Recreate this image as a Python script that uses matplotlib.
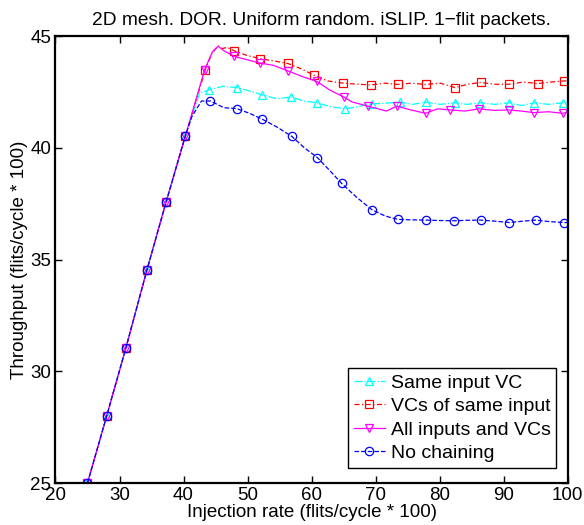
import matplotlib
matplotlib.use('Agg')
import matplotlib.pyplot as plt

plt.rcParams['font.family'] = ['Liberation Sans', 'DejaVu Sans']

title = '2D mesh. DOR. Uniform random. iSLIP. 1\u2212flit packets.'
xlabel = 'Injection rate (flits/cycle * 100)'
ylabel = 'Throughput (flits/cycle * 100)'
xticks = [20, 30, 40, 50, 60, 70, 80, 90, 100]
yticks = [25, 30, 35, 40, 45]

# shared linear ramp before saturation
ramp_x = [25.0, 28.0, 31.0, 34.3, 37.3, 40.3]
ramp_y = [25.0, 28.0, 31.05, 34.55, 37.6, 40.55]

# Same input VC
same_vc_x = ramp_x + [42.5, 44.0, 46.2, 48.4, 50.3, 52.2, 54.6, 56.8, 58.8, 60.8,
                      63.0, 65.2, 67.3, 69.4, 71.6, 73.8, 75.8, 77.8, 80.1, 82.4,
                      84.3, 86.3, 88.6, 90.9, 92.8, 94.8, 97.0, 99.2, 100.0]
same_vc_y = ramp_y + [42.45, 42.6, 42.76, 42.7, 42.55, 42.38, 42.2, 42.28, 42.1, 42.02,
                      41.85, 41.75, 41.85, 41.98, 42.0, 42.05, 41.95, 42.05, 41.95, 42.02,
                      41.95, 42.02, 41.95, 42.02, 41.9, 42.02, 41.95, 42.02, 42.0]
same_vc_mk = ramp_x + [44.0, 48.4, 52.2, 56.8, 60.8, 65.2, 69.4, 73.8, 77.8, 82.4,
                       86.3, 90.9, 94.8, 99.2]

# VCs of same input
vcs_in_x = ramp_x + [43.4, 44.4, 45.4, 46.1, 46.8, 47.9, 49.8, 51.9, 54.0, 56.3,
                     58.3, 60.4, 62.5, 64.9, 67.2, 69.3, 71.5, 73.5, 75.6, 77.8,
                     80.1, 82.4, 84.4, 86.4, 88.7, 90.9, 93.1, 95.3, 97.5, 99.5, 100.0]
vcs_in_y = ramp_y + [43.5, 44.2, 44.58, 44.45, 44.5, 44.35, 44.15, 44.0, 43.9, 43.78,
                     43.55, 43.25, 43.0, 42.9, 42.85, 42.82, 42.9, 42.84, 42.9, 42.84,
                     42.9, 42.7, 42.85, 42.93, 42.85, 42.85, 42.95, 42.88, 42.95, 43.0, 43.0]
vcs_in_mk = ramp_x + [43.4, 47.9, 51.9, 56.3, 60.4, 64.9, 69.3, 73.5, 77.8, 82.4,
                      86.4, 90.9, 95.3, 99.5]

# All inputs and VCs
all_x = ramp_x + [43.3, 44.5, 45.4, 46.3, 47.9, 49.9, 51.9, 54.0, 56.3, 58.5,
                  60.8, 62.8, 65.0, 66.3, 68.8, 71.7, 73.3, 75.5, 77.8, 79.7,
                  81.6, 84.0, 86.1, 88.5, 90.8, 92.8, 94.7, 97.0, 99.2, 100.0]
all_y = ramp_y + [43.5, 44.3, 44.55, 44.35, 44.1, 43.95, 43.8, 43.7, 43.45, 43.2,
                  42.98, 42.6, 42.28, 42.06, 41.87, 41.65, 41.87, 41.7, 41.55, 41.75,
                  41.7, 41.65, 41.75, 41.68, 41.7, 41.65, 41.58, 41.62, 41.55, 41.6]
all_mk = ramp_x + [43.3, 47.9, 51.9, 56.3, 60.8, 65.0, 68.8, 73.3, 77.8, 81.6,
                   86.1, 90.8, 94.7, 99.2]

# No chaining
none_x = ramp_x + [41.3, 42.8, 44.2, 46.3, 48.3, 50.3, 52.2, 54.5, 56.9, 58.9,
                   60.9, 62.8, 64.7, 67.0, 69.4, 71.5, 73.5, 75.6, 77.8, 80.0,
                   82.3, 84.4, 86.4, 88.7, 90.9, 93.0, 95.0, 97.2, 99.4, 100.0]
none_y = ramp_y + [41.4, 42.1, 42.1, 41.8, 41.76, 41.55, 41.3, 40.95, 40.52, 40.0,
                   39.57, 39.0, 38.41, 37.8, 37.24, 36.95, 36.8, 36.78, 36.77, 36.75,
                   36.74, 36.76, 36.77, 36.72, 36.66, 36.72, 36.77, 36.7, 36.66, 36.66]
none_mk = ramp_x + [44.2, 48.3, 52.2, 56.9, 60.9, 64.7, 69.4, 73.5, 77.8, 82.3,
                    86.4, 90.9, 95.0, 99.4]

series = [
    ('Same input VC', same_vc_x, same_vc_y, same_vc_mk, 'cyan', '-.', '^'),
    ('VCs of same input', vcs_in_x, vcs_in_y, vcs_in_mk, 'red', (0, (4, 2, 1, 2)), 's'),
    ('All inputs and VCs', all_x, all_y, all_mk, 'magenta', '-', 'v'),
    ('No chaining', none_x, none_y, none_mk, 'blue', '--', 'o'),
]

fig = plt.figure(figsize=(5.84, 5.25), dpi=100)
ax = fig.add_axes([0.095, 0.08, 0.877, 0.851])

for label, xs, ys, mk, color, ls, marker in series:
    idx = [xs.index(v) for v in mk]
    ax.plot(xs, ys, color=color, linestyle=ls, linewidth=0.9, marker=marker,
            markevery=idx, markersize=6, markerfacecolor='none',
            markeredgewidth=0.9, label=label)

ax.set_xlim(20, 100)
ax.set_ylim(25, 45)
ax.set_xticks(xticks)
ax.set_yticks(yticks)
ax.tick_params(direction='in', length=5, width=1, top=True, right=True,
               labelsize=13.5, pad=3)
for sp in ax.spines.values():
    sp.set_linewidth(1.6)

ax.set_title(title, fontsize=13.8, pad=8, x=0.52)
ax.set_xlabel(xlabel, fontsize=13.5, labelpad=0)
ax.set_ylabel(ylabel, fontsize=13.5, labelpad=2)

leg = ax.legend(loc='lower right', bbox_to_anchor=(0.978, 0.034), borderaxespad=0,
                fontsize=14, fancybox=False, edgecolor='black', framealpha=1,
                handlelength=1.6, handletextpad=0.3, labelspacing=0.3,
                borderpad=0.3)
leg.get_frame().set_linewidth(1.0)

fig.savefig('out.png', dpi=100)
